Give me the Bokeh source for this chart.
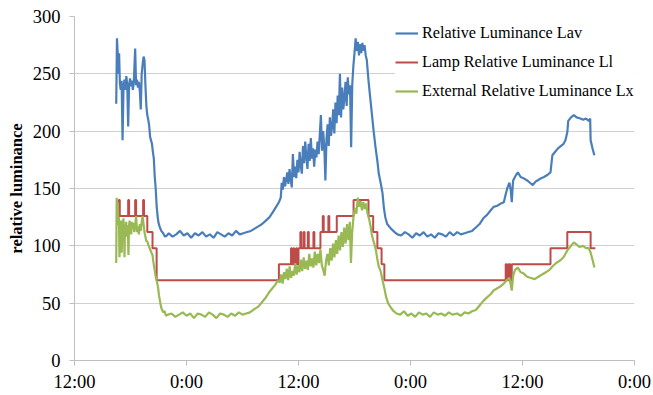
from bokeh.plotting import figure
from bokeh.models import FixedTicker, Range1d, Legend, LegendItem
from bokeh.embed import file_html
from bokeh.resources import INLINE

# x in hours since the first 12:00
tick_hours = [0, 12, 24, 36, 48, 60]
tick_labels = ["12:00", "0:00", "12:00", "0:00", "12:00", "0:00"]
y_ticks = [0, 50, 100, 150, 200, 250, 300]

series_names = ["Relative Luminance Lav", "Lamp Relative Luminance Ll", "External Relative Luminance Lx"]

# Relative Luminance Lav
lav_hours = [
    4.47, 4.55, 4.62, 4.70, 4.78, 4.86, 4.95, 5.05, 5.15, 5.25, 5.35, 5.45, 5.55, 5.65, 5.75, 5.85,
    5.95, 6.05, 6.15, 6.25, 6.35, 6.50, 6.60, 6.70, 6.80, 6.90, 7.00, 7.10, 7.20, 7.30, 7.40, 7.50,
    7.60, 7.70, 7.80, 7.90, 8.00, 8.10, 8.20, 8.30, 8.40, 8.50, 8.60, 8.70, 8.80, 8.90, 9.00, 9.15,
    9.30, 9.50, 9.70, 9.90,
    10.1, 10.5, 10.9, 11.3, 11.7, 12.1, 12.5, 12.9, 13.3, 13.7, 14.1, 14.5, 14.9, 15.3, 15.7, 16.1,
    16.5, 16.9, 17.3, 17.7, 18.1, 18.5, 18.9,
    19.3, 19.7, 20.1, 20.5, 20.9, 21.3, 21.6, 21.9, 22.1,
    22.20, 22.32, 22.44, 22.56, 22.68, 22.80, 22.92, 23.04, 23.16, 23.28, 23.40, 23.52, 23.64, 23.76,
    23.88, 24.00, 24.12, 24.24, 24.36, 24.48, 24.60, 24.72, 24.84, 24.96, 25.08, 25.20, 25.32, 25.44,
    25.56, 25.68, 25.80, 25.92, 26.04, 26.16, 26.28, 26.40, 26.52, 26.64, 26.76, 26.88, 27.00, 27.12,
    27.24, 27.36, 27.48, 27.60, 27.72, 27.84, 27.96, 28.08, 28.20, 28.32, 28.44, 28.56, 28.68, 28.80,
    28.92, 29.04, 29.16, 29.28, 29.40, 29.52, 29.64, 29.76, 29.88, 30.00, 30.12, 30.24, 30.36, 30.48,
    30.60, 30.72, 30.84, 30.96, 31.08, 31.20, 31.32, 31.50, 31.70, 31.90, 32.05, 32.25, 32.45, 32.60,
    32.80, 33.00, 33.15, 33.30, 33.50, 33.90, 34.30, 34.60,
    35.0, 35.4, 35.8, 36.2, 36.6, 37.0, 37.4, 37.8, 38.2, 38.6, 39.0, 39.4, 39.8, 40.2, 40.6, 41.0,
    41.4, 41.8, 42.2, 42.6,
    43.0, 43.4, 43.8, 44.2, 44.6, 44.9, 45.3, 45.7, 46.0, 46.2, 46.4, 46.6, 46.75, 46.85, 46.95, 47.0,
    47.25, 47.5, 47.8, 48.1, 48.5, 48.8, 49.1, 49.4, 49.6, 50.0, 50.3, 50.7, 51.0, 51.2, 51.5, 51.8,
    52.1, 52.4, 52.6, 52.8, 52.9, 53.2, 53.5, 53.8, 54.2, 54.5, 54.8, 55.1, 55.25, 55.3, 55.5, 55.7,
]
lav = [
    224, 281, 270, 250, 268, 242, 236, 244, 192, 238, 245, 236, 248, 241, 204, 240,
    246, 239, 244, 236, 242, 272, 240, 245, 238, 243, 235, 219, 250, 258, 265, 262,
    240, 222, 214, 210, 205, 195, 192, 189, 182, 176, 160, 150, 135, 126, 120, 116,
    113, 111, 108, 109,
    111, 108, 110, 113, 109, 111, 107, 111, 109, 112, 108, 110, 107, 112, 110, 108,
    111, 109, 113, 110, 111, 112, 113,
    115, 117, 119, 122, 125, 130, 134, 138, 142,
    155, 149, 160, 152, 158, 164, 154, 167, 158, 151, 180, 160, 169, 159,
    175, 164, 182, 170, 163, 187, 172, 191, 178, 167, 189, 174, 194, 176,
    185, 169, 184, 177, 191, 180, 197, 214, 183, 200, 187, 157, 193, 206,
    187, 212, 196, 204, 219, 198, 225, 207, 231, 214, 250, 212, 238, 219,
    229, 243, 222, 247, 232, 240, 186, 241, 257, 268, 281, 270, 278, 266,
    276, 268, 277, 270, 275, 266, 262, 244, 228, 212, 200, 186, 174, 163,
    155, 146, 133, 125, 119, 115, 112, 110,
    109, 112, 110, 107, 111, 109, 112, 108, 110, 107, 111, 110, 108, 112, 109, 112,
    110, 111, 112, 113,
    116, 119, 124, 127, 131, 134, 135, 137, 138, 145, 151, 155, 148, 138, 152, 157,
    161, 164, 160, 159, 157, 155, 153, 156, 157, 159, 160, 162, 164, 179, 182, 185,
    187, 189, 192, 199, 209, 212, 214, 212, 211, 210, 211, 209, 211, 192, 185, 179,
]

# Lamp Relative Luminance Ll (step levels, each held until the next hour)
l1_hours = [
    4.47, 4.75, 4.85, 5.75, 5.85, 6.50, 6.60, 7.35, 7.45, 7.80, 8.36, 8.80,
    21.90, 23.20, 23.30, 23.45, 23.55, 23.75, 23.85, 24.00, 24.20, 24.30, 24.55, 24.65,
    25.00, 25.10, 25.60, 25.70, 26.35, 26.60, 26.70, 27.20, 27.30, 28.10, 29.90, 31.50,
    32.00, 32.45, 32.90, 33.20,
    46.20, 46.35, 46.50, 46.70, 46.85, 51.00, 52.80, 55.30, 55.80,
]
l1 = [
    126, 140, 126, 140, 126, 140, 126, 140, 126, 112, 98, 70,
    84, 98, 84, 98, 84, 98, 84, 98, 112, 98, 112, 98,
    112, 98, 112, 98, 112, 126, 112, 126, 112, 126, 140, 126,
    112, 98, 84, 70,
    84, 70, 84, 70, 84, 98, 112, 98, 98,
]

# External Relative Luminance Lx
lx_hours = [
    4.47, 4.52, 4.58, 4.64, 4.70, 4.76, 4.82, 4.88, 4.94, 5.00, 5.06, 5.12, 5.18, 5.24, 5.30, 5.36,
    5.42, 5.48, 5.54, 5.60, 5.66, 5.72, 5.78, 5.84, 5.90, 5.96, 6.02, 6.08, 6.14, 6.20, 6.30, 6.40,
    6.50, 6.60, 6.70, 6.80, 6.90, 7.00, 7.10, 7.20, 7.30, 7.40, 7.50, 7.60, 7.70, 7.80, 7.95, 8.10,
    8.25, 8.36, 8.45, 8.57, 8.70, 8.85, 8.95, 9.05, 9.20, 9.30, 9.40, 9.50, 9.65, 9.80, 10.0,
    10.4, 10.8, 11.2, 11.6, 12.0, 12.4, 12.8, 13.2, 13.6, 14.0, 14.4, 14.8, 15.2, 15.6, 16.0, 16.4,
    16.8, 17.2, 17.6, 18.0, 18.4, 18.8,
    19.3, 19.7, 20.1, 20.5, 20.9, 21.2, 21.5, 21.8, 22.0, 22.15, 22.3, 22.45, 22.6, 22.75, 22.9, 23.05,
    23.2, 23.35, 23.5, 23.65, 23.8, 23.95, 24.1, 24.25, 24.4, 24.55, 24.7, 24.85, 25.0, 25.15, 25.3, 25.45,
    25.6, 25.75, 25.9, 26.05, 26.2, 26.35, 26.5, 26.65, 26.8, 26.95, 27.1, 27.25, 27.4, 27.55, 27.7, 27.85,
    28.0, 28.15, 28.3, 28.45, 28.6, 28.75, 28.9, 29.05, 29.2, 29.35, 29.5, 29.62, 29.75, 29.9, 30.05, 30.2,
    30.35, 30.5, 30.65, 30.8, 30.95, 31.1, 31.25, 31.4, 31.55, 31.7, 31.85, 32.0, 32.15, 32.3, 32.45, 32.6,
    32.8, 33.0, 33.2, 33.4, 33.6, 33.9, 34.2, 34.5,
    34.9, 35.3, 35.7, 36.1, 36.5, 36.9, 37.3, 37.7, 38.1, 38.5, 38.9, 39.3, 39.7, 40.1, 40.5, 41.0,
    41.4, 41.8, 42.2, 42.6,
    43.0, 43.4, 43.8, 44.2, 44.6, 44.9, 45.3, 45.7, 46.0, 46.3, 46.6, 46.85, 47.0, 47.2, 47.5, 47.8,
    48.1, 48.5, 48.9, 49.3, 49.7, 50.1, 50.5, 50.9, 51.2, 51.6, 52.0, 52.4, 52.8, 53.1, 53.5, 53.8,
    54.1, 54.5, 54.8, 55.1, 55.3, 55.5, 55.7,
]
lx = [
    85, 142, 130, 138, 118, 125, 90, 120, 112, 122, 94, 118, 110, 124, 115, 90,
    119, 112, 121, 108, 118, 113, 92, 117, 122, 114, 119, 110, 121, 116, 120, 112,
    118, 126, 112, 117, 110, 119, 113, 121, 126, 119, 112, 108, 104, 104, 100, 97,
    94, 92, 86, 80, 73, 68, 64, 57, 50, 46, 44, 42, 43, 39, 40,
    41, 38, 40, 42, 39, 41, 37, 41, 40, 38, 42, 40, 37, 41, 40, 38,
    41, 39, 42, 40, 41, 42,
    45, 47, 51, 55, 60, 63, 66, 70, 68, 75, 67, 77, 71, 80, 70, 82,
    72, 78, 74, 85, 75, 83, 77, 88, 78, 90, 80, 87, 79, 93, 82, 89,
    81, 95, 83, 93, 85, 97, 83, 79, 74, 87, 93, 83, 98, 87, 102, 90,
    105, 93, 109, 96, 112, 99, 116, 102, 119, 105, 121, 85, 112, 126, 133, 128,
    142, 134, 139, 131, 138, 132, 137, 128, 124, 118, 110, 105, 101, 96, 88, 82,
    78, 70, 63, 55, 50, 46, 43, 41,
    40, 43, 39, 41, 38, 42, 40, 41, 38, 42, 40, 41, 39, 42, 40, 41,
    39, 42, 41, 43,
    44, 48, 52, 55, 58, 61, 63, 65, 67, 70, 72, 61, 74, 79, 81, 77,
    76, 73, 72, 71, 73, 75, 77, 79, 82, 85, 87, 90, 96, 99, 103, 101,
    99, 100, 98, 98, 94, 88, 81,
]

BLUE = "#4a7ebb"
RED = "#be4b48"
GREEN = "#98b954"
GRID = "#d0d0d0"
AXIS = "#bfbfbf"
SERIF = "Liberation Serif"

p = figure(
    width=653, height=395, output_backend="svg", toolbar_location=None,
    x_range=Range1d(0, 60), y_range=Range1d(0, 300),
    min_border_left=74, min_border_right=19, min_border_top=16, min_border_bottom=35,
)
p.outline_line_color = None
p.background_fill_color = "white"

r_lav = p.line(lav_hours, lav, line_color=BLUE, line_width=2.2)
r_l1 = p.step(l1_hours, l1, mode="after", line_color=RED, line_width=2)
r_lx = p.line(lx_hours, lx, line_color=GREEN, line_width=2.2)

p.xgrid.visible = False
p.ygrid.grid_line_color = GRID
p.ygrid.grid_line_width = 1

p.xaxis.ticker = FixedTicker(ticks=tick_hours)
p.xaxis.major_label_overrides = {t: l for t, l in zip(tick_hours, tick_labels)}
p.yaxis.ticker = FixedTicker(ticks=y_ticks)

p.axis.axis_line_color = AXIS
p.axis.major_tick_line_color = AXIS
p.axis.minor_tick_line_color = None
p.axis.major_tick_in = 0
p.axis.major_tick_out = 5
p.axis.major_label_text_font = SERIF
p.axis.major_label_text_font_size = "18.5px"
p.axis.major_label_text_color = "black"

p.xaxis.major_label_standoff = 6
p.yaxis.major_label_standoff = 9
p.yaxis.axis_label = "relative luminance"
p.yaxis.axis_label_text_font = SERIF
p.yaxis.axis_label_text_font_style = "bold"
p.yaxis.axis_label_text_font_size = "16.5px"
p.yaxis.axis_label_text_color = "black"
p.yaxis.axis_label_standoff = 4

legend = Legend(
    items=[
        LegendItem(label=series_names[0], renderers=[r_lav]),
        LegendItem(label=series_names[1], renderers=[r_l1]),
        LegendItem(label=series_names[2], renderers=[r_lx]),
    ],
    location=(321, 259),
    padding=8, spacing=9, margin=0,
    glyph_width=23, glyph_height=20, label_height=20, label_standoff=4,
    label_text_font=SERIF, label_text_font_size="16.2px", label_text_color="black",
    border_line_color=None, background_fill_color="white", background_fill_alpha=1.0,
)
p.add_layout(legend, "center")

open("out.html", "w").write(file_html(p, INLINE))
